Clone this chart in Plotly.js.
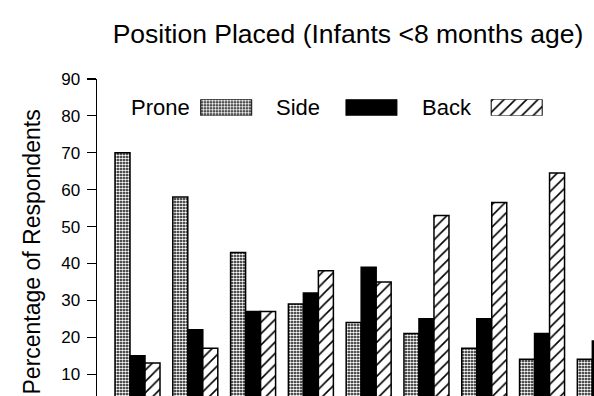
<!DOCTYPE html>
<html>
<head>
<meta charset="utf-8">
<script src="https://cdn.plot.ly/plotly-3.0.1.min.js"></script>
<style>
html,body{margin:0;padding:0;overflow:hidden;background:#fff;}
#chart{width:700px;height:451px;}
</style>
</head>
<body>
<div id="chart"></div>
<script>
// Data (groups continue beyond the cropped right edge)
const groups = ['1', '2', '3', '4', '5', '6', '7', '8', '9'];
const prone = [70, 58, 43, 29, 24, 21, 17, 14, 14];
const side  = [15, 22, 27, 32, 39, 25, 25, 21, 19];
const back  = [13, 17, 27, 38, 35, 53, 56.5, 64.5, null];
const seriesNames = ['Prone', 'Side', 'Back'];
const legendSlots = [1, 2, 3];
const yTicks = [10, 20, 30, 40, 50, 60, 70, 80, 90];

const groupPos = groups.map((g, i) => i);

const pronePattern = {shape: '.', bgcolor: '#000', fgcolor: '#fff', size: 3, solidity: 0.6};
const sidePattern = {shape: '', bgcolor: '#000', fgcolor: '#000'};
const backPattern = {shape: '/', bgcolor: '#fff', fgcolor: '#000', size: 8, solidity: 0.2};
const patterns = [pronePattern, sidePattern, backPattern];
const fills = ['#000', '#000', '#fff'];

const traces = [];
[prone, side, back].forEach((vals, k) => {
  traces.push({
    type: 'bar', x: groupPos, y: vals, name: seriesNames[k],
    marker: {color: fills[k], pattern: patterns[k], line: {color: '#000', width: 1.5}},
    showlegend: false, hoverinfo: 'skip'
  });
});
// custom legend swatches (text left of swatch, as in the original)
seriesNames.forEach((n, k) => {
  traces.push({
    type: 'bar', x: [legendSlots[k]], y: [1], xaxis: 'x2', yaxis: 'y2', width: 0.351,
    marker: {color: fills[k], pattern: patterns[k], line: {color: '#000', width: 1}},
    showlegend: false, hoverinfo: 'skip'
  });
});

const annotations = seriesNames.map((n, k) => ({
  text: n, xref: 'x2', yref: 'y2', x: legendSlots[k], y: 0.5,
  xanchor: 'left', yanchor: 'middle', xshift: -97, showarrow: false,
  font: {size: 22, color: '#000'}
}));
annotations.push({
  text: 'Percentage of Respondents', xref: 'paper', yref: 'paper', x: 0, y: 0.4774,
  xanchor: 'center', yanchor: 'middle', xshift: -65, textangle: -90, showarrow: false,
  font: {size: 23, color: '#000'}
});

const layout = {
  width: 700, height: 451,
  margin: {l: 97, r: 0, t: 79, b: 40},
  paper_bgcolor: '#fff', plot_bgcolor: 'rgba(0,0,0,0)',
  font: {family: '"Liberation Sans", Arial, Helvetica, sans-serif', color: '#000'},
  title: {text: 'Position Placed (Infants <8 months age)', font: {size: 26.5, color: '#000'},
          xref: 'container', x: 0.4971, xanchor: 'center', yref: 'container', y: 0.9246, yanchor: 'middle'},
  barmode: 'group', bargap: 0.2213, bargroupgap: 0,
  xaxis: {range: [-0.7008, 9.733], showgrid: false, zeroline: false, showline: true, linecolor: '#000',
          linewidth: 1.5, showticklabels: false, ticks: '', fixedrange: true},
  yaxis: {range: [0, 90], tickvals: yTicks, ticktext: yTicks.map(String), showgrid: false, zeroline: false, showline: true,
          linecolor: '#000', linewidth: 1.5, ticks: 'outside', ticklen: 9, tickwidth: 1.2, tickcolor: '#000',
          ticklabelstandoff: 3, tickfont: {size: 17, color: '#000'}, fixedrange: true},
  xaxis2: {domain: [0, 1], anchor: 'y2', range: [0.1105, 4.262], visible: false, fixedrange: true},
  yaxis2: {domain: [0.889, 0.939], anchor: 'x2', range: [0, 1], visible: false, fixedrange: true},
  annotations: annotations
};

Plotly.newPlot('chart', traces, layout, {staticPlot: true});
</script>
</body>
</html>
